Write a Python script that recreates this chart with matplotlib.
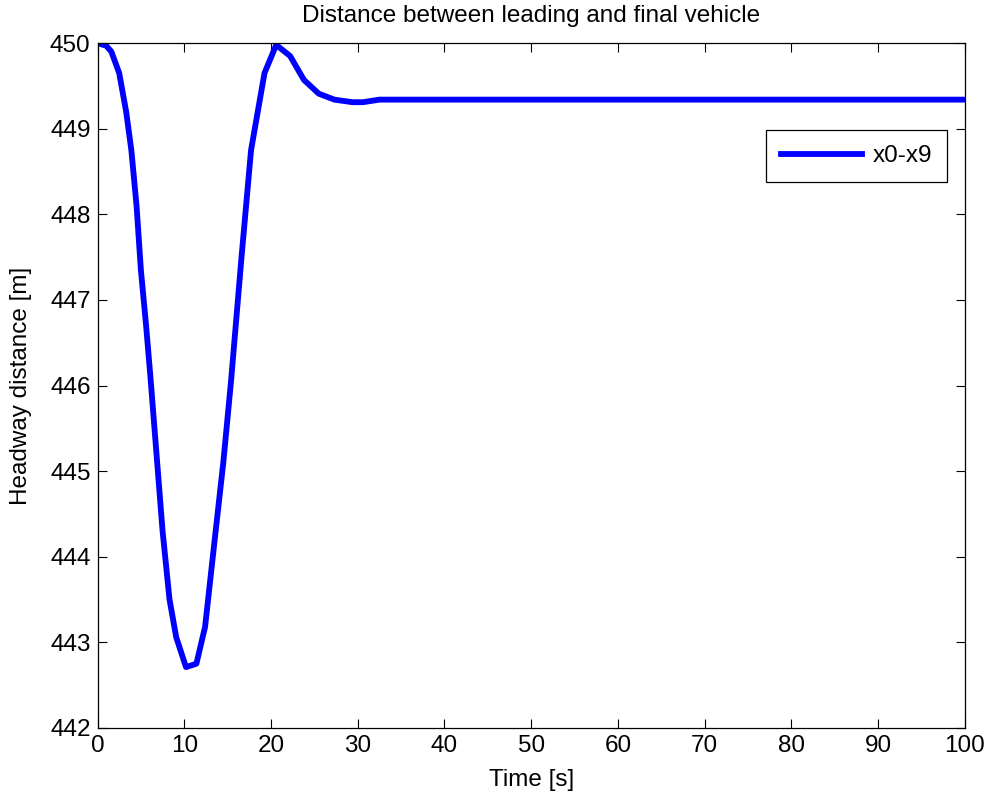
import matplotlib
matplotlib.use("Agg")
import matplotlib.pyplot as plt

# distance x0 - x9 (solver steps are uneven)
t = [0, 1.0, 1.6, 2.5, 3.3, 3.9, 4.5, 5.0, 5.6, 6.1, 6.8, 7.5, 8.3, 9.07,
     10.2, 11.4, 12.4, 13.5, 14.5, 15.4, 16.6, 17.7, 19.25, 20.6, 22.2,
     23.8, 25.5, 27.3, 29.4, 30.6, 32.5, 100]
dist = [450.0, 449.97, 449.90, 449.65, 449.2, 448.75, 448.1, 447.35, 446.7,
        446.1, 445.2, 444.3, 443.5, 443.06, 442.71, 442.75, 443.18, 444.19,
        445.1, 446.06, 447.5, 448.75, 449.65, 449.98, 449.85, 449.57,
        449.41, 449.34, 449.31, 449.31, 449.34, 449.34]

plt.rcParams['font.family'] = ['Liberation Sans', 'DejaVu Sans']
fs = 17.5

fig = plt.figure(figsize=(9.89, 7.99), dpi=100)
ax = fig.add_axes([0.0986, 0.089, 0.8771, 0.857])

ax.plot(t, dist, color='#0000ff', linewidth=4.2, label='x0-x9')

ax.set_xlim(0, 100)
ax.set_ylim(442, 450)
ax.set_xticks(range(0, 101, 10))
ax.set_yticks(range(442, 451))
ax.tick_params(direction='in', top=True, right=True, length=6.5,
               width=0.8, labelsize=fs, pad=5)
for s in ax.spines.values():
    s.set_linewidth(0.9)

ax.set_title('Distance between leading and final vehicle', fontsize=fs, pad=15)
ax.set_xlabel('Time [s]', fontsize=fs, labelpad=9)
ax.set_ylabel('Headway distance [m]', fontsize=fs, labelpad=13)

leg = ax.legend(loc='upper right', bbox_to_anchor=(0.9795, 0.873), fontsize=fs,
                fancybox=False, edgecolor='black', framealpha=1,
                handlelength=3.3, borderpad=0.62, handletextpad=0.45,
                borderaxespad=0)
leg.get_frame().set_linewidth(0.9)

fig.savefig('out.png', dpi=100)
